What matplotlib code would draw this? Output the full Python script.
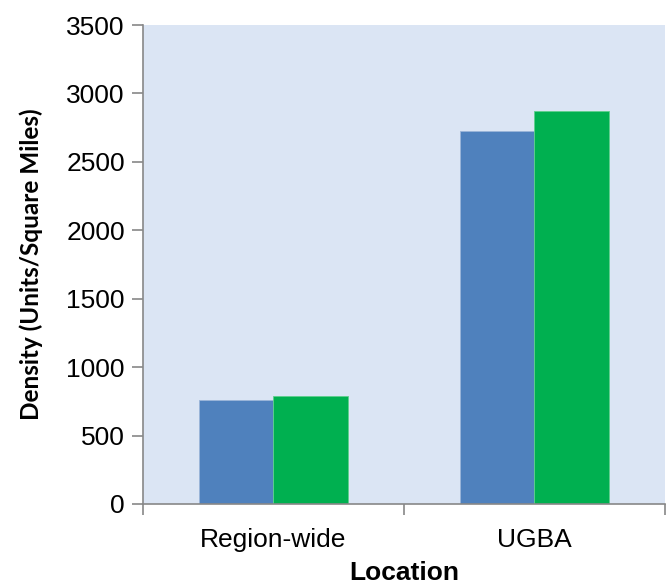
import numpy as np
import matplotlib
matplotlib.use("Agg")
import matplotlib.pyplot as plt

# Données
locations = ["Region-wide", "UGBA"]
serie_bleue = [762, 2723]
serie_verte = [790, 2868]
y_ticks = [0, 500, 1000, 1500, 2000, 2500, 3000, 3500]

plt.rcParams['font.family'] = ['Liberation Sans', 'DejaVu Sans']

fig = plt.figure(figsize=(6.7, 5.87), dpi=100)
ax = fig.add_axes([0.2134, 0.1414, 0.779, 0.816])
ax.set_facecolor('#dbe5f4')

x = np.arange(len(locations))
w = 0.287
ax.bar(x - w / 2, serie_bleue, width=w, color='#4f81bd', edgecolor='#9bb5d8', linewidth=0.6)
ax.bar(x + w / 2, serie_verte, width=w, color='#00b050', edgecolor='#5fcf8c', linewidth=0.6)

ax.set_xlim(-0.5, len(locations) - 0.5)
ax.set_ylim(0, 3500)
ax.set_yticks(y_ticks)
ax.set_yticklabels([str(v) for v in y_ticks], fontsize=19)

ax.set_xticks(x)
ax.set_xticklabels(locations, fontsize=19)
ax.set_xticks(np.arange(-0.5, len(locations)), minor=True)
ax.tick_params(axis='x', which='major', length=0, pad=17)
ax.tick_params(axis='x', which='minor', length=8, color='#888888', width=1.2)
ax.tick_params(axis='y', length=8, color='#888888', width=1.2, pad=5)

for s in ['top', 'right']:
    ax.spines[s].set_visible(False)
for s in ['left', 'bottom']:
    ax.spines[s].set_color('#888888')
    ax.spines[s].set_linewidth(1.2)

ax.set_xlabel("Location", fontsize=19, fontweight='bold', labelpad=7)
ax.set_ylabel("Density (Units/Square Miles)", fontsize=17.5, fontweight='bold',
              family=['Lato', 'DejaVu Sans'], labelpad=17)

fig.savefig("out.png", dpi=100)
